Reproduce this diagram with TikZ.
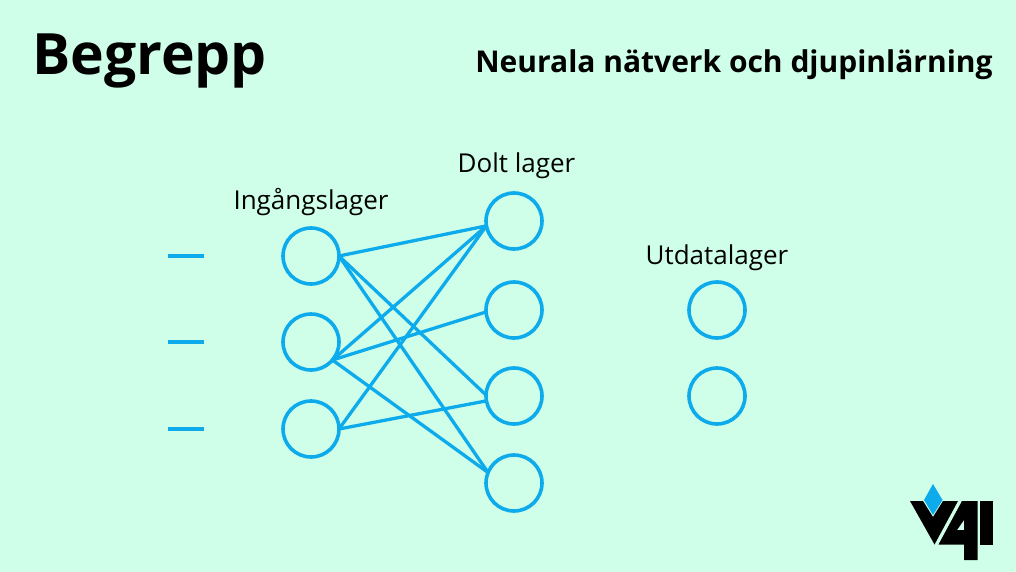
\documentclass[tikz,border=0pt]{standalone}
\usepackage{fontspec}
\setmainfont{Open Sans}
\usetikzlibrary{positioning}
\definecolor{ink}{HTML}{000000}
\definecolor{netblue}{HTML}{0DABEC}
\definecolor{bgmint}{HTML}{CFFFE9}
\tikzset{
  neuron/.style={circle, draw=netblue, line width=3.6pt, minimum size=56pt, inner sep=0pt, outer sep=0pt},
  link/.style={draw=netblue, line width=3.3pt},
  lagertext/.style={text=ink, inner sep=0pt, font=\fontsize{26}{30}\selectfont}
}

\begin{document}
\begin{tikzpicture}[x=1pt, y=-1pt]
  \fill[bgmint] (0,0) rectangle (1016,572);
  \useasboundingbox (0,0) rectangle (1016,572);

  \node[text=ink, inner sep=0pt, font=\fontsize{57}{66}\selectfont\bfseries] (title) at (149.5,61) {Begrepp};
  \node[text=ink, inner sep=0pt, font=\fontsize{30}{36}\selectfont\bfseries] (subtitle) at (734,65) {Neurala nätverk och djupinlärning};

  % input layer
  \node[neuron] (i1) at (311,256) {};
  \node[neuron, below=30pt of i1] (i2) {};
  \node[neuron, below=31pt of i2] (i3) {};
  % hidden layer
  \node[neuron] (h1) at (514,221) {};
  \node[neuron, below=33pt of h1] (h2) {};
  \node[neuron, below=30pt of h2] (h3) {};
  \node[neuron, below=31pt of h3] (h4) {};
  % output layer
  \node[neuron] (o1) at (717,310) {};
  \node[neuron, below=30pt of o1] (o2) {};

  \node[lagertext] (lin) at (311,202) {Ingångslager};
  \node[lagertext] (lhid) at (516.5,166) {Dolt lager};
  \node[lagertext] (lout) at (717,258) {Utdatalager};

  \coordinate[left=79pt of i1] (d1a);
  \coordinate[left=115pt of i1] (d1b);
  \coordinate[left=79pt of i2] (d2a);
  \coordinate[left=115pt of i2] (d2b);
  \coordinate[left=79pt of i3] (d3a);
  \coordinate[left=115pt of i3] (d3b);
  \draw[link] (d1b) -- (d1a);
  \draw[link] (d2b) -- (d2a);
  \draw[link] (d3b) -- (d3a);

  \draw[link] (i1.east) -- (h1.190);
  \draw[link] (i1.east) -- (h3.178);
  \draw[link] (i1.east) -- (h4.158);
  \draw[link] (i2.-40) -- (h1.190);
  \draw[link] (i2.-40) -- (h2.184);
  \draw[link] (i2.-40) -- (h4.158);
  \draw[link] (i3.east) -- (h1.190);
  \draw[link] (i3.east) -- (h3.190);

  % logo
  \fill[netblue] (933,484) -- (942.5,500) -- (933,515) -- (924,500) -- cycle;
  \fill[ink] (910,501) -- (923,501) -- (933,517) -- (943,501) -- (958,501) -- (934.5,544.5) -- cycle;
  \fill[ink, even odd rule] (962,501) -- (938.5,544.5) -- (964,544.5) -- (964,560) -- (977.5,560) -- (977.5,501) -- cycle
    (964,520) -- (964,530) -- (957,530) -- cycle;
  \fill[ink] (980,501) -- (993,501) -- (993,544.5) -- (980,544.5) -- cycle;
\end{tikzpicture}
\end{document}
